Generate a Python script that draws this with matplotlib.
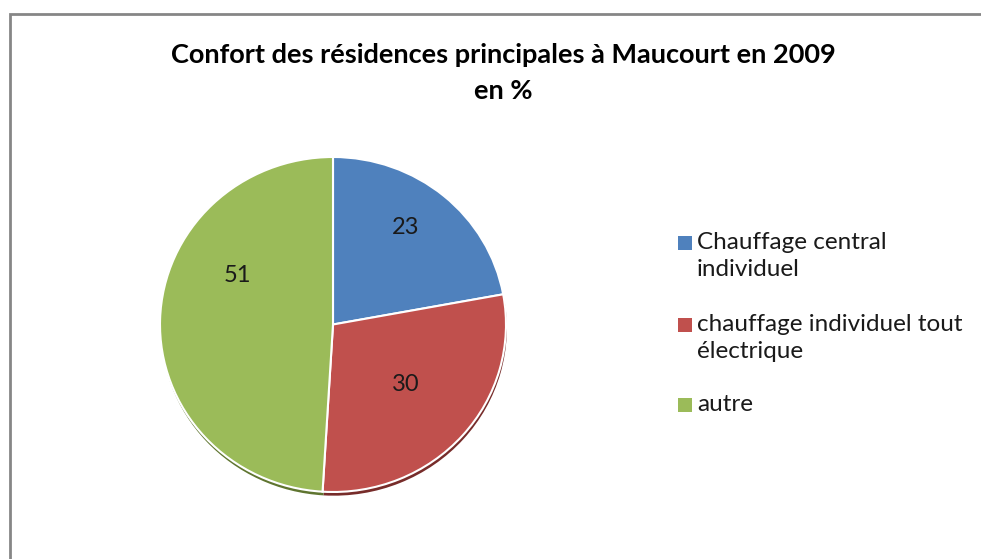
import numpy as np
import matplotlib
matplotlib.use("Agg")
import matplotlib.pyplot as plt
from matplotlib.patches import Rectangle

# données (Maucourt 2009, en %)
categories = ["Chauffage central\nindividuel", "chauffage individuel tout\nélectrique", "autre"]
valeurs = [23, 30, 51]
couleurs = ["#4F81BD", "#C0504D", "#9BBB59"]
ombres = ["#2c4d75", "#772c2a", "#5f7530"]

plt.rcParams['font.family'] = ['Lato', 'DejaVu Sans']

W, H = 981, 559
fig = plt.figure(figsize=(W / 100, H / 100), dpi=100)

# cadre gris du graphique
fig.patches.append(Rectangle((10 / W, -0.1), 1.1, 1.1 - 14 / H, transform=fig.transFigure,
                             fill=False, edgecolor="#868686", linewidth=2))

# titre
fig.text(503 / W, 1 - 55 / H, "Confort des résidences principales à Maucourt en 2009",
         ha="center", va="center", fontsize=19.5, fontweight="bold")
fig.text(503 / W, 1 - 91 / H, "en %", ha="center", va="center", fontsize=19.5, fontweight="bold")

# camembert (légèrement aplati comme dans Excel)
cx, cy, B = 333, 324.5, 185
rx, ry = 173, 167.5
ax = fig.add_axes([(cx - B) / W, (H - cy - B) / H, 2 * B / W, 2 * B / H])
ax.axis("off")

# ombre sous le disque
ax.pie(valeurs, colors=ombres, startangle=90, counterclock=False, radius=1.0,
       center=(0.005, -0.022), wedgeprops=dict(linewidth=0))
ax.pie(valeurs, colors=couleurs, startangle=90, counterclock=False, radius=1.0,
       wedgeprops=dict(edgecolor="white", linewidth=1.5))
ax.set_aspect("auto")
ax.set_xlim(-B / rx, B / rx)
ax.set_ylim(-B / ry, B / ry)

# étiquettes (placement « au mieux » d'Excel)
pos_etiq = [(0.42, 0.58), (0.42, -0.36), (-0.55, 0.29)]
for v, (x, y) in zip(valeurs, pos_etiq):
    ax.text(x, y, str(v), ha="center", va="center", fontsize=17, color="#1a1a1a")

# légende
lignes_y = [243, 325, 405]
for lab, col, y in zip(categories, couleurs, lignes_y):
    fig.patches.append(Rectangle((678 / W, 1 - (y + 7) / H), 14 / W, 14 / H,
                                 transform=fig.transFigure, facecolor=col, edgecolor="none"))
    fig.text(697 / W, 1 - (y - 11) / H, lab, ha="left", va="top", fontsize=17.5,
             color="#1a1a1a", linespacing=1.38)

fig.savefig("out.png", dpi=100)
